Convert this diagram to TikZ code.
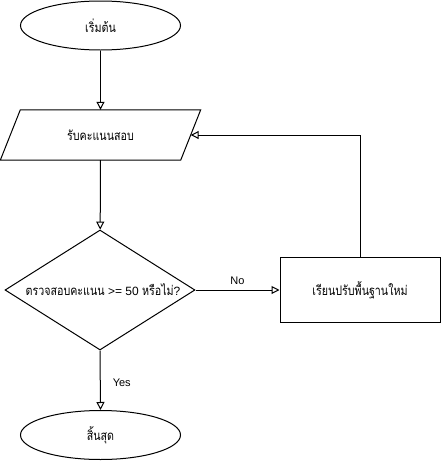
\documentclass[tikz,border=0pt]{standalone}
\usepackage{fontspec}
\setmainfont{Liberation Sans}
\newfontfamily\thaifont[Script=Thai, Scale=1.1, FakeStretch=0.81]{Loma}
\usetikzlibrary{shapes.geometric,arrows.meta}
\tikzset{
  base/.style={draw=black, line width=1pt, fill=white, font=\fontsize{12}{14}\selectfont, inner sep=0pt},
  terminal/.style={base, ellipse, minimum width=160pt, minimum height=49pt},
  iobox/.style={font=\fontsize{12}{14}\selectfont, inner sep=0pt, rectangle, minimum width=180pt, minimum height=50pt},
  outline/.style={draw=black, line width=1pt, line join=miter},
  decision/.style={base, diamond, minimum width=190pt, minimum height=120pt},
  process/.style={base, rectangle, minimum width=160pt, minimum height=65pt},
  plain/.style={font=\fontsize{12}{14}\selectfont, inner sep=0pt},
  elabel/.style={font=\fontsize{11}{13}\selectfont, inner sep=0pt},
  flow/.style={line width=1pt, -{Triangle[open, width=8pt, length=8pt]}}
}
\begin{document}
\begin{tikzpicture}[x=1pt, y=-1pt]
\useasboundingbox (0,0) rectangle (441,461);
\node[terminal] (start) at (100.5,25.5) {\thaifont เริ่มต้น};
\node[iobox] (input) at (100.5,135) {\thaifont รับคะแนนสอบ};
\draw[outline] ([xshift=-10pt]input.south west) -- ([xshift=10pt]input.north west)
  -- ([xshift=10pt]input.north east) -- ([xshift=-10pt]input.south east) -- cycle;
\node[decision] (dec) at (100,290) {};
\node[plain] (dectext) at ([xshift=3pt]dec.center) {{\thaifont ตรวจสอบคะแนน} >= 50 {\thaifont หรือไม่}?};
\node[process] (fix) at (360,290) {\thaifont เรียนปรับพื้นฐานใหม่};
\node[terminal] (stop) at (100.5,435) {\thaifont สิ้นสุด};

\draw[flow] (start) -- (input);
\draw[flow] (input) -- (dec);
\draw[flow] (dec.east) -- node[elabel, above=5pt] (nolabel) {No} (fix.west);
\draw[flow] (dec.south) -- node[elabel, right=12pt, pos=0.55] (yeslabel) {Yes} (stop.north);
\draw[flow] (fix.north) |- (input);
\end{tikzpicture}
\end{document}
